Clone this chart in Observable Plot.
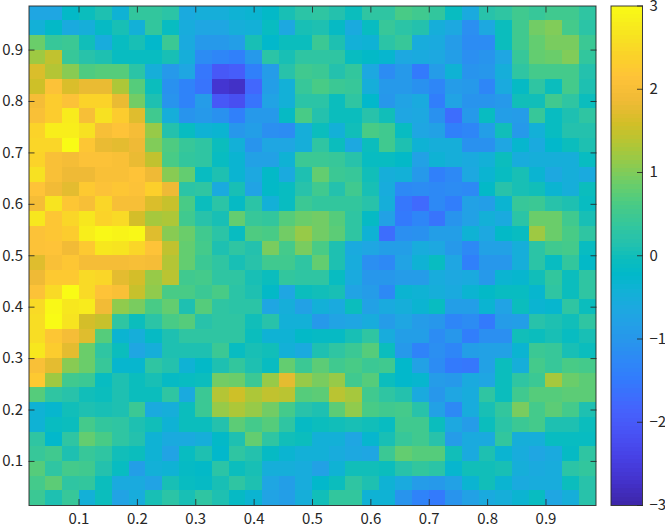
<!DOCTYPE html>
<html>
<head>
<meta charset="utf-8">
<script src="https://cdn.jsdelivr.net/npm/d3@7"></script>
<script src="https://cdn.jsdelivr.net/npm/@observablehq/plot@0.6"></script>
<style>
html,body{margin:0;padding:0;background:#fff;width:665px;height:529px;overflow:hidden}
#main,#bar{position:absolute;top:0}
#main{left:0}#bar{left:600px}
svg{display:block;background:transparent}
</style>
</head>
<body>
<div id="main"></div><div id="bar"></div>
<script>
const xTicks=[0.1,0.2,0.3,0.4,0.5,0.6,0.7,0.8,0.9];
const yTicks=[0.1,0.2,0.3,0.4,0.5,0.6,0.7,0.8,0.9];
const barTicks=[-3,-2,-1,0,1,2,3];
const parula=[[.2422,.1504,.6603],[.2647,.1978,.7952],[.2783,.2559,.8991],[.2810,.3228,.9579],[.2699,.3892,.9906],[.1963,.4847,.9892],[.1786,.5289,.9682],[.1540,.5902,.9218],[.1248,.6459,.8883],[.0689,.6948,.8394],[.0036,.7203,.7917],[.0433,.7411,.7394],[.1408,.7584,.6842],[.1938,.7758,.6251],[.2906,.7973,.5188],[.3909,.8029,.4354],[.5616,.7942,.3045],[.6720,.7793,.2227],[.8203,.7498,.1535],[.9393,.7288,.2100],[.9970,.7659,.2199],[.9892,.8086,.1706],[.9669,.8855,.1300],[.9769,.9839,.0805]];
const colorStops=parula.map(c=>`rgb(${c.map(v=>Math.round(v*255)).join(",")})`);
const stopPositions=[0,.0476,.0952,.1429,.1905,.2540,.2857,.3333,.3810,.4286,.4603,.4921,.5238,.5556,.6032,.6349,.6825,.7143,.7619,.8095,.8571,.8889,.9365,1];
const stopValues=stopPositions.map(t=>-3+6*t);
const rows=[
[-0.7,-0.7,-0.2,-0.05,0.1,-0.4,0.35,0.35,0.25,-0.6,-0.5,-0.5,-0.4,-0.35,-0.2,0.05,0.25,0.3,0.15,-0.05,0.3,0.3,0.6,0.5,0.35,-0.1,-0.6,0.2,0.3,0.5,0.4,0.5,0.5,0.3],
[-0.45,-0.2,-0.6,-0.5,-0.15,0.05,-0.45,0.35,-0.1,-0.55,-0.7,-0.7,-0.5,-0.45,-0.1,-0.65,0.05,0.1,-0.15,-0.6,-0.1,0.4,0.25,0.15,-0.5,-0.65,-1.15,-0.65,-0.05,0.5,0.9,1.0,0.55,0.25],
[0.85,0.4,0.45,0.0,-0.55,-0.1,0.05,-0.25,0.45,-0.6,-0.95,-0.95,-0.85,0.05,-0.25,-0.05,-0.05,0.45,0.1,-0.45,-0.4,0.25,0.4,-0.55,-0.6,-0.9,-1.2,-1.2,-0.05,0.5,0.8,0.95,0.95,0.45],
[1.2,1.45,0.4,0.2,0.1,-0.1,-0.1,-0.1,0.05,-0.5,-1.2,-1.3,-1.4,-0.95,0.25,0.05,0.3,0.3,0.3,-0.1,-0.2,-0.3,-0.65,-0.6,-0.65,-0.85,-1.15,-1.05,-0.7,0.4,0.8,0.85,1.0,0.35],
[1.65,1.35,1.05,0.65,0.7,0.7,0.25,-0.5,-0.95,-0.7,-1.55,-2.05,-1.95,-1.4,-0.9,0.2,0.5,0.45,0.15,0.35,-0.65,-1.2,-0.95,-1.5,-0.9,-0.4,-1.05,-1.0,-0.5,0.3,0.55,0.55,0.55,0.15],
[1.55,2.1,1.65,1.8,1.8,1.3,0.7,-0.05,-1.1,-1.35,-1.6,-2.65,-2.75,-1.8,-0.85,-0.45,0.4,0.6,0.45,0.4,-0.5,-0.95,-0.95,-1.1,-1.3,-0.9,-0.95,-1.3,-0.6,-0.15,0.3,-0.05,0.55,0.1],
[1.95,2.3,2.1,2.4,2.4,1.8,0.9,0.1,-1.05,-1.35,-0.9,-2.05,-2.2,-1.6,-0.75,-0.45,0.25,0.25,-0.05,0.3,-0.25,-1.0,-0.75,-0.6,-1.45,-0.75,-1.05,-1.05,-0.95,0.0,0.0,0.5,0.3,-0.05],
[2.05,2.3,2.75,2.0,2.6,2.3,1.7,0.5,-0.5,-1.05,-0.95,-1.1,-1.4,-0.95,-0.95,-0.15,0.6,0.15,-0.05,-0.05,0.2,0.0,-0.7,-0.65,-1.1,-1.7,-0.95,-0.1,-0.85,-0.9,0.4,-0.1,0.1,0.3],
[2.4,2.8,2.8,2.6,2.0,2.15,1.95,1.15,0.15,-0.1,-0.4,-0.35,-1.0,-0.85,-1.15,-1.2,-0.5,-0.05,-0.45,0.0,0.6,0.5,-0.1,-0.7,-0.8,-1.4,-1.3,-0.85,0.0,-0.95,-0.45,-0.1,0.15,0.15],
[2.45,2.45,3.0,2.2,1.8,1.75,1.85,1.0,0.65,0.4,0.3,-0.05,-0.45,-1.05,-0.7,-0.7,-0.5,0.3,-0.05,-0.65,-0.05,0.5,0.1,-0.4,-0.5,-0.5,-1.1,-1.1,-0.7,-0.3,-0.6,-0.25,-0.05,0.1],
[2.4,2.05,1.95,2.1,2.1,2.05,1.8,1.45,0.6,0.35,0.3,-0.1,-0.35,-0.8,-0.8,-0.4,0.45,0.45,0.4,0.2,-0.1,-0.1,-0.2,-0.8,-0.4,-0.5,-0.6,-0.45,-0.05,-0.55,-0.5,-0.5,-0.5,-0.1],
[2.6,2.05,1.85,1.85,2.05,2.05,2.15,1.85,1.05,0.8,-0.1,0.1,-0.35,-0.65,-0.2,-0.6,0.1,0.8,0.45,0.4,0.0,-0.5,-0.45,-0.95,-1.4,-1.25,-0.65,-0.35,-0.1,0.05,-0.35,-0.65,-0.5,-0.6],
[2.15,1.9,1.75,2.25,2.1,2.2,2.1,2.35,1.85,0.25,0.3,-0.6,0.05,-0.75,-0.2,-0.1,0.2,0.5,0.15,0.5,0.05,-0.55,-1.25,-1.2,-1.25,-1.2,-1.25,-0.2,0.2,0.05,0.0,-0.35,-0.5,-0.05],
[1.95,2.65,2.2,2.0,2.45,2.0,2.0,1.65,1.5,0.6,-0.05,0.25,-0.15,0.25,-0.45,-0.1,0.45,0.35,0.35,0.35,0.2,-0.5,-1.55,-1.75,-1.25,-1.45,-0.8,-0.85,-0.35,0.4,0.45,0.2,0.1,-0.1],
[2.7,2.2,2.45,2.7,2.4,2.5,1.6,1.25,1.3,0.5,0.2,0.05,0.8,0.4,0.35,0.7,0.85,0.9,0.7,0.3,-0.15,-0.8,-1.5,-1.3,-1.6,-1.05,-0.8,-0.45,-0.6,0.25,0.85,0.85,0.5,0.05],
[2.1,2.2,2.3,2.8,2.95,2.9,2.95,1.7,1.05,0.85,0.5,0.25,-0.1,0.65,0.6,0.9,1.15,0.9,0.75,0.3,-0.4,-1.7,-1.15,-1.1,-0.85,-0.85,-0.4,-0.65,-0.2,-0.1,1.2,0.85,0.6,0.3],
[2.1,2.15,1.9,2.25,2.7,2.65,2.45,2.15,1.45,0.8,0.55,0.1,0.3,0.15,0.95,0.55,0.95,0.6,0.1,-0.6,-0.7,-0.85,-0.85,-0.55,-0.65,-0.95,-1.25,-0.8,-0.8,-0.5,0.25,0.5,0.55,-0.1],
[1.7,2.05,2.2,1.95,1.95,1.95,2.0,1.95,1.35,0.8,0.45,0.3,0.05,0.2,0.5,0.5,0.3,0.8,0.1,-0.55,-1.15,-1.25,-0.75,-0.4,-0.1,-0.7,-1.4,-1.0,-1.0,-0.5,0.25,-0.1,0.35,-0.2],
[1.85,2.25,2.25,2.5,2.45,1.75,1.6,1.15,1.4,0.5,0.55,0.3,0.3,0.05,-0.05,0.35,0.3,0.3,-0.1,-0.6,-1.0,-1.0,-0.9,-0.9,-0.55,-0.65,-0.6,-0.95,-0.35,-0.3,0.0,0.35,-0.05,0.3],
[2.1,2.5,3.0,2.5,2.15,2.05,1.5,1.1,0.6,0.6,0.45,0.6,0.25,0.1,-0.2,-0.7,-0.05,0.0,0.05,-0.75,-0.9,-1.25,-0.35,-0.4,-0.5,-0.6,-0.35,-0.2,-0.1,-0.1,-0.3,0.3,-0.05,0.3],
[2.5,2.95,2.7,2.75,1.9,1.1,0.95,0.6,0.8,0.1,0.7,0.3,0.25,0.25,-0.7,-0.5,-0.8,-0.45,-0.6,-0.05,-0.8,-0.6,-0.5,-0.35,-0.1,-0.85,-0.85,-0.35,-0.75,-0.05,-0.35,-0.3,0.3,-0.05],
[2.55,3.0,2.65,1.6,1.5,0.3,-0.05,0.25,0.6,0.7,0.2,0.3,0.3,0.0,0.2,-0.45,-0.45,-0.95,-0.75,-0.7,-0.55,-0.9,-0.7,-0.9,-1.0,-1.3,-1.2,-1.5,-0.9,-0.85,0.2,0.1,0.0,0.3],
[2.55,2.2,1.95,1.7,0.7,-0.35,-0.5,-0.15,0.1,0.3,0.3,0.3,0.3,-0.05,-0.4,-0.4,-0.2,-0.15,-0.15,0.05,0.3,-0.55,-0.85,-0.85,-1.2,-1.0,-1.45,-1.15,-1.15,0.0,-0.05,0.05,-0.1,0.05],
[2.7,2.3,1.75,0.85,0.3,-0.05,-0.7,-0.5,0.1,0.1,0.1,0.45,-0.1,0.05,0.0,-0.45,-0.6,0.1,0.3,0.45,0.7,-0.05,-0.95,-1.35,-1.15,-1.3,-0.85,-0.8,-0.8,-0.35,0.45,0.4,0.05,-0.05],
[2.05,1.75,1.05,0.85,0.4,-0.3,-0.3,0.3,0.15,-0.4,-0.2,0.1,0.35,0.1,-0.1,0.8,0.45,0.75,0.5,0.6,0.45,0.5,-0.25,-0.8,-1.2,-1.5,-1.55,-0.8,-0.05,-0.5,0.55,0.4,0.6,0.55],
[2.25,1.2,0.5,0.45,-0.1,0.1,-0.05,0.05,-0.15,-0.1,-0.05,0.9,0.85,0.45,1.15,1.75,1.15,0.95,1.15,0.5,0.7,-0.05,-0.25,-0.3,-0.9,-0.95,-0.6,-0.7,-0.05,0.3,0.45,1.25,0.85,0.75],
[0.7,0.3,0.2,0.0,-0.05,0.1,-0.05,-0.05,0.3,-0.6,0.45,1.35,1.55,1.3,1.45,1.4,0.7,0.75,1.4,1.25,0.5,0.3,0.15,-0.6,-1.0,-0.7,-0.55,0.3,-0.05,0.5,0.7,0.7,0.75,0.75],
[-0.4,-0.3,0.0,0.1,0.05,0.1,0.45,-0.6,-0.5,-0.05,0.45,1.15,1.3,1.15,0.9,0.55,0.2,0.1,0.75,1.1,0.6,0.5,0.55,0.2,-0.8,-1.25,-0.55,0.05,0.35,0.95,0.55,0.75,0.55,0.1],
[-0.4,-0.1,-0.05,0.55,0.35,0.3,0.1,0.0,-0.4,-0.05,-0.05,0.15,0.75,0.55,0.7,0.3,-0.15,-0.05,0.0,0.05,0.0,-0.1,0.5,0.5,-0.05,-0.65,-0.9,-0.05,0.25,0.45,0.55,0.1,0.1,-0.05],
[0.3,-0.25,0.3,0.8,0.6,0.3,0.15,-0.4,-0.6,-0.6,-0.5,-0.2,0.1,0.8,0.3,0.0,-0.05,-0.45,-0.45,-0.7,-0.3,0.05,0.4,0.5,0.2,-0.9,-0.6,-0.6,0.35,-0.5,-0.5,-0.1,-0.1,-0.1],
[0.4,0.5,0.1,0.4,0.3,0.0,-0.05,-0.4,-0.75,-0.1,0.1,-0.25,0.3,0.15,-0.15,-0.35,-0.45,-0.45,-0.55,-0.65,-0.7,0.45,0.8,0.7,0.7,0.0,-0.6,0.1,-0.35,-0.55,-0.7,-0.6,-0.15,0.3],
[0.7,0.3,0.55,0.5,0.15,-0.1,-0.85,-0.45,-0.4,-0.15,-0.2,0.25,-0.05,0.05,-0.5,-0.5,-0.55,-0.8,-0.4,0.0,0.0,-0.05,0.2,0.35,0.25,-0.3,0.0,0.0,0.05,-0.5,-0.6,-0.55,0.25,0.35],
[0.55,0.75,0.3,0.35,-0.05,-0.6,-0.6,-0.75,0.05,-0.1,-0.15,0.05,0.3,0.1,-0.7,-0.85,-0.55,-0.25,-0.05,0.3,0.1,-0.4,-0.6,-0.9,-0.95,-0.8,-0.35,0.0,-0.35,-0.6,-0.55,-0.55,-0.05,0.2],
[0.45,0.1,0.4,-0.45,-0.05,-0.75,-0.55,0.05,0.25,0.05,0.3,0.1,-0.15,-0.35,-0.75,-0.85,-0.5,0.0,0.35,0.35,-0.4,-0.4,-1.05,-1.35,-1.5,-1.05,-0.8,-0.6,-0.5,-0.35,-0.1,-0.7,-0.5,0.2]
];
const cells=rows.flatMap((r,i)=>r.map((v,j)=>({v,
  x1:(j+0.5)/35,x2:(j+1.5)/35,y1:(33-i+0.5)/35,y2:(33-i+1.5)/35})));
const colorScale={type:"linear",domain:stopValues,range:colorStops,clamp:true};
const ink="#262626";
const font='"Noto Sans CJK JP","Liberation Sans",sans-serif';
const textStyle={fontFamily:font,fontSize:"15px",color:ink,background:"transparent"};
const main=Plot.plot({
  width:600,height:529,marginLeft:28.5,marginRight:4.5,marginTop:5.5,marginBottom:24,
  style:textStyle,
  x:{domain:[0.5/35,34.5/35],label:null},
  y:{domain:[0.5/35,34.5/35],label:null},
  color:colorScale,
  marks:[
    Plot.rect(cells,{x1:"x1",x2:"x2",y1:"y1",y2:"y2",fill:"v",shapeRendering:"crispEdges"}),
    Plot.axisX(xTicks,{anchor:"bottom",tickSize:-6,tickPadding:14,stroke:ink,strokeOpacity:0.85,fill:ink,label:null,tickFormat:d3.format(".1f")}),
    Plot.axisX(xTicks,{anchor:"top",tickSize:-6,fill:"none",stroke:ink,strokeOpacity:0.85,label:null}),
    Plot.axisY(yTicks,{anchor:"left",tickSize:-6,tickPadding:12,stroke:ink,strokeOpacity:0.85,fill:ink,label:null,tickFormat:d3.format(".1f")}),
    Plot.axisY(yTicks,{anchor:"right",tickSize:-6,fill:"none",stroke:ink,strokeOpacity:0.85,label:null}),
    Plot.frame({stroke:ink,strokeOpacity:0.9})
  ]
});
document.getElementById("main").append(main);
const barLevels=d3.range(-3,3,6/120);
const bar=Plot.plot({
  width:65,height:529,marginLeft:10.5,marginRight:23,marginTop:5.5,marginBottom:24,
  style:textStyle,
  x:{domain:[0,1],axis:null},
  y:{domain:[-3,3],label:null},
  color:colorScale,
  marks:[
    Plot.rect(barLevels,{x1:0,x2:1,y1:d=>d,y2:d=>d+6/120,fill:d=>d+3/120,shapeRendering:"crispEdges"}),
    Plot.axisY(barTicks,{anchor:"right",tickSize:-6,tickPadding:13,stroke:ink,strokeOpacity:0.85,fill:ink,label:null,tickFormat:d3.format("d")}),
    Plot.frame({stroke:ink,strokeOpacity:0.9})
  ]
});
document.getElementById("bar").append(bar);
</script>
</body>
</html>
